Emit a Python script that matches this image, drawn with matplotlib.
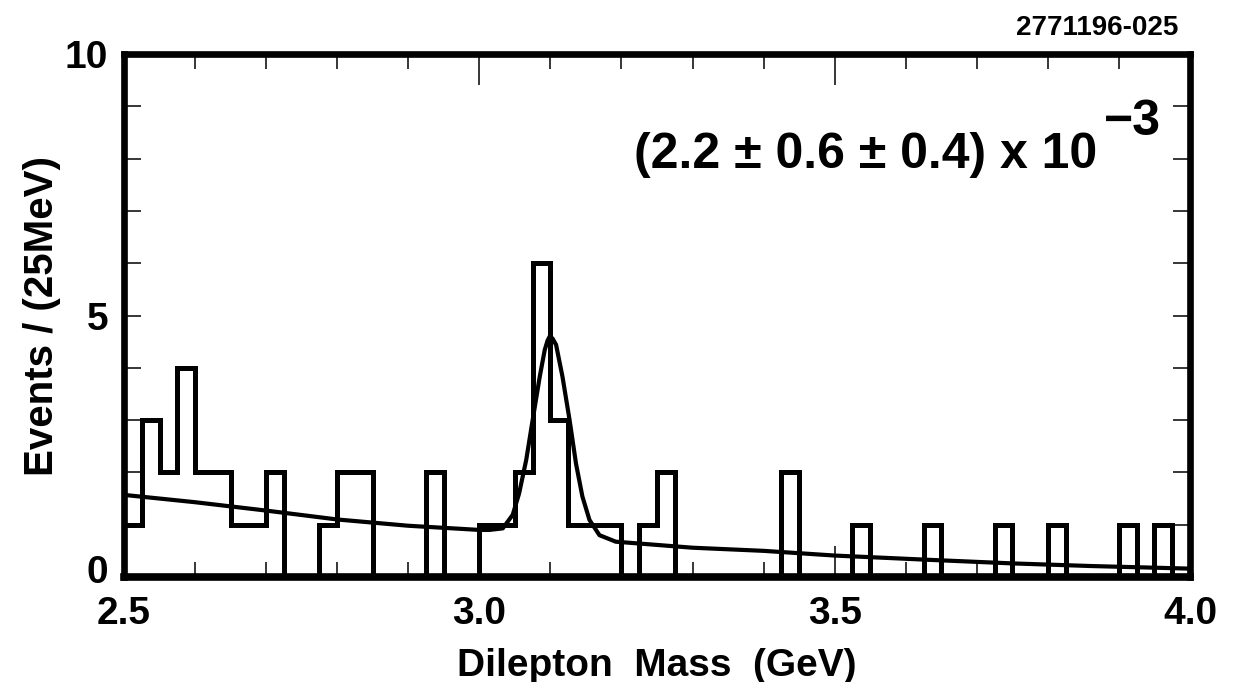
import numpy as np
import matplotlib
matplotlib.use('Agg')
import matplotlib.pyplot as plt
import matplotlib.transforms as mtransforms
from matplotlib.ticker import FixedLocator, MultipleLocator

plt.rcParams['font.family'] = ['Liberation Sans', 'DejaVu Sans']
plt.rcParams['font.weight'] = 'bold'
plt.rcParams['axes.labelweight'] = 'bold'

# 25 MeV bins from 2.5 to 4.0 GeV
edges = np.linspace(2.5, 4.0, 61)
counts = [1, 3, 2, 4, 2, 2, 1, 1, 2, 0,
          0, 1, 2, 2, 0, 0, 0, 2, 0, 0,
          1, 1, 2, 6, 3, 1, 1, 1, 0, 1,
          2, 0, 0, 0, 0, 0, 0, 2, 0, 0,
          0, 1, 0, 0, 0, 1, 0, 0, 0, 1,
          0, 0, 1, 0, 0, 0, 1, 0, 1, 0]

# fit curve
fit_x = [2.50, 2.60, 2.70, 2.80, 2.90, 3.00, 3.014, 3.033, 3.047, 3.056,
         3.066, 3.075, 3.085, 3.092, 3.096, 3.099, 3.103, 3.108, 3.117, 3.127,
         3.136, 3.145, 3.155, 3.169, 3.192, 3.30, 3.40, 3.50, 3.63, 3.75,
         3.86, 4.00]
fit_y = [1.57, 1.43, 1.27, 1.10, 0.98, 0.90, 0.90, 0.93, 1.19, 1.60,
         2.24, 3.00, 3.83, 4.34, 4.52, 4.60, 4.56, 4.44, 3.83, 3.00,
         2.17, 1.54, 1.09, 0.80, 0.675, 0.56, 0.50, 0.41, 0.33, 0.26,
         0.21, 0.16]

W, H = 1247, 682
fig = plt.figure(figsize=(W / 100, H / 100), dpi=100)
ax = fig.add_axes([124 / W, 1 - 577 / H, 1066 / W, 523 / H])

ax.stairs(counts, edges, baseline=0, color='k', lw=3.6, zorder=2)
ax.plot(fit_x, fit_y, color='k', lw=3.0, solid_joinstyle='round',
        solid_capstyle='round', zorder=3)

ax.set_xlim(2.5, 4.0)
ax.set_ylim(0, 10)

ax.xaxis.set_major_locator(FixedLocator([2.5, 3.0, 3.5, 4.0]))
ax.xaxis.set_minor_locator(MultipleLocator(0.1))
ax.yaxis.set_major_locator(FixedLocator([0, 5, 10]))
ax.yaxis.set_minor_locator(MultipleLocator(1))
ax.set_xticklabels(['2.5', '3.0', '3.5', '4.0'])
ax.set_yticklabels(['0', '5', '10'])

ax.tick_params(which='both', direction='in', top=True, right=True, width=1.1,
               labelsize=28, color='k')
ax.tick_params(axis='x', which='major', length=22, pad=13.5)
ax.tick_params(axis='x', which='minor', length=11)
ax.tick_params(axis='y', which='both', length=12, pad=11.5)

for s in ax.spines.values():
    s.set_linewidth(4.8)
    s.set_zorder(5)
ax.spines['bottom'].set_linewidth(5.5)

# "0" sits a little higher than its tick
lab0 = ax.get_yticklabels()[0]
lab0.set_transform(lab0.get_transform() + mtransforms.ScaledTranslation(0, 8 / 100, fig.dpi_scale_trans))

ax.set_xlabel('Dilepton  Mass  (GeV)', fontsize=28, fontweight='bold')
ax.xaxis.set_label_coords(0.5, (577 - 648) / 523)
ax.set_ylabel('Events / (25MeV)', fontsize=29, fontweight='bold')
ax.yaxis.set_label_coords((61 - 124) / 1066, 0.5)

fig.text(634 / W, 1 - 168 / H, '(2.2 ± 0.6 ± 0.4) x 10', fontsize=36,
         ha='left', va='baseline')
fig.text(1104 / W, 1 - 135 / H, '\u22123', fontsize=36, ha='left', va='baseline')
fig.text(1178 / W, 1 - 35 / H, '2771196-025', fontsize=20, ha='right', va='baseline')

fig.savefig('out.png', dpi=100)
